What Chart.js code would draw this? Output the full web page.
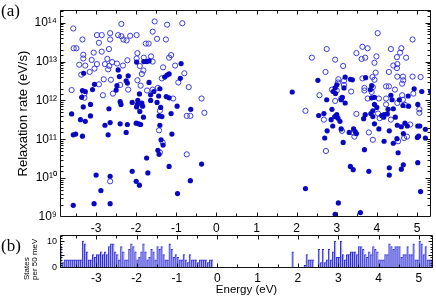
<!DOCTYPE html>
<html>
<head>
<meta charset="utf-8">
<script src="https://cdn.jsdelivr.net/npm/chart.js@4.4.0/dist/chart.umd.min.js"></script>
<style>
  body { margin: 0; background: #fff; }
  #wrap { position: relative; width: 436px; height: 297px; overflow: hidden; }
  canvas { position: absolute; left: 0; }
  .tag { position: absolute; font-family: 'Liberation Serif', serif; font-size: 17px; color: #000; }
  .vlab { position: absolute; font-family: 'Liberation Sans', Arial, sans-serif; font-size: 8px; line-height: 8px;
          white-space: pre; transform-origin: 0 0; transform: rotate(-90deg); color: #000; }
</style>
</head>
<body>
<div id="wrap">
  <canvas id="rates" width="436" height="240" style="top:0"></canvas>
  <canvas id="dos" width="436" height="72" style="top:225px"></canvas>
  <div class="tag" style="left:1px;top:1px">(a)</div>
  <div class="tag" style="left:1px;top:236px">(b)</div>
  <div class="vlab" style="left:23px;top:280px">States
per 50 meV</div>
</div>
<script>
// energy (eV), relaxation rate (eV/s)
const filledPoints = [
  [-3.61,4.5e11],[-3.57,1.3e11],[-3.51,1.36e11],[-3.57,2.0e9],[-3.39,3.2e11],[-3.36,1.2e12],
  [-3.34,1.8e12],[-3.34,1.2e11],[-3.32,6.8e11],[-3.31,5.0e12],[-3.27,1.7e12],[-3.27,2.9e11],
  [-3.14,7.9e11],[-3.14,4.0e11],[-3.09,1.9e12],[-3.05,2.2e9],[-3.04,2.6e12],[-3.00,1.2e10],
  [-2.88,4.8e9],[-2.78,2.3e11],[-2.70,1.3e11],[-2.68,6.1e11],[-2.65,2.7e11],[-2.65,1.12e10],
  [-2.65,2.2e9],[-2.50,1.85e12],[-2.48,2.4e12],[-2.45,6.1e12],[-2.42,4.1e12],[-2.40,9.3e11],
  [-2.40,2.5e11],[-2.38,7.9e11],[-2.25,3.2e12],[-2.25,1.5e11],[-2.22,2.8e12],[-2.22,2.4e11],
  [-2.20,4.3e12],[-2.10,8.9e11],[-2.10,1.5e10],[-2.00,2.6e11],[-2.00,8.3e9],[-1.99,9.7e12],
  [-1.99,6.8e11],[-1.97,7.9e11],[-1.96,1.0e12],[-1.94,2.5e11],[-1.92,1.47e12],[-1.92,6.6e9],
  [-1.91,5.2e11],[-1.89,2.4e11],[-1.86,8.6e11],[-1.84,7.1e11],[-1.82,3.7e11],[-1.81,1.0e13],
  [-1.74,1.0e13],[-1.74,3.3e10],[-1.71,1.36e10],[-1.68,1.04e13],[-1.68,2.9e12],[-1.64,1.4e12],
  [-1.64,1.0e12],[-1.56,1.7e12],[-1.48,8.9e11],[-1.46,5.2e10],[-1.44,1.3e12],[-1.43,4.0e11],
  [-1.43,4.1e10],[-1.41,2.0e12],[-1.41,2.3e11],[-1.39,6.6e11],[-1.38,9.7e10],[-1.36,3.85e11],
  [-1.33,7.1e10],[-1.29,4.0e12],[-1.25,1.26e12],[-1.23,4.5e12],[-1.18,4.8e12],[-1.18,1.17e12],
  [-1.18,2.0e10],[-1.13,4.6e11],[-1.11,1.36e11],[-0.98,7.1e11],[-0.97,4.0e9],[-0.90,3.7e12],
  [-0.88,8.9e12],[-0.65,8.6e9],[-0.64,5.9e11],[-0.37,2.3e10],
  [1.89,1.65e12],[2.22,5.4e9],[2.53,3.3e12],[2.55,4.1e11],[2.68,4.6e11],[2.70,1.08e11],
  [2.75,1.04e12],[2.76,1.65e11],[2.86,3.2e11],[2.88,5.9e11],[2.90,2.2e11],[2.91,1.7e12],
  [2.95,3.85e11],[2.96,2.1e12],[2.96,1.17e9],[2.97,1.5e12],[3.00,2.5e12],[3.00,4.3e11],
  [3.03,3.5e11],[3.04,2.3e9],[3.08,2.9e11],[3.11,1.04e12],[3.11,1.85e11],[3.14,1.2e12],
  [3.16,8.3e10],[3.18,2.1e12],[3.21,4.0e12],[3.21,8.6e11],[3.31,1.5e11],[3.34,3.5e12],
  [3.34,2.0e10],[3.39,3.4e12],[3.41,1.65e10],[3.42,1.85e11],[3.46,1.58e11],[3.49,1.4e11],
  [3.59,1.3e9],[3.67,3.4e11],[3.69,5.4e10],[3.71,4.3e11],[3.72,3.85e12],[3.80,1.5e10],
  [3.84,1.9e12],[3.85,4.6e11],[3.87,2.4e12],[3.87,1.17e12],[3.90,5.4e11],[3.90,3.85e11],
  [3.94,1.2e12],[3.94,7.9e11],[3.94,2.5e11],[4.00,6.6e11],[4.05,1.85e11],[4.12,4.1e11],
  [4.17,3.7e11],[4.18,4.3e11],[4.18,8.9e10],[4.26,4.5e11],[4.28,5.9e11],[4.31,1.65e11],
  [4.31,1.85e10],[4.31,1.2e10],[4.35,1.36e12],[4.38,1.04e12],[4.41,6.1e11],[4.41,7.9e10],
  [4.46,3.7e11],[4.50,1.04e11],[4.51,2.3e11],[4.53,4.5e10],[4.56,1.04e12],[4.61,2.1e11],
  [4.61,1.7e10],[4.65,7.4e11],[4.66,1.4e11],[4.66,2.2e10],[4.70,2.6e11],[4.76,2.2e11],
  [4.78,1.3e12],[4.79,7.1e11],[4.93,2.0e12],[5.01,1.12e11],[5.02,7.9e11],[5.02,2.2e11],
  [5.02,2.5e10],[5.04,1.2e11],[5.07,2.2e11],[5.09,4.5e9],[5.12,1.7e12],[5.21,1.8e11],
  [5.21,1.08e11],[5.34,1.7e12]
];

const openPoints = [
  [-3.57,7.1e13],[-3.56,2.2e13],[-3.49,2.2e13],[-3.34,3.7e13],[-3.32,1.5e13],[-3.32,1.2e13],
  [-3.42,8.3e12],[-3.27,7.9e12],[-3.37,4.6e12],[-3.16,5.4e12],[-3.61,1.85e12],[-3.29,1.5e12],
  [-3.29,1.17e12],[-3.11,1.1e13],[-3.06,1.7e13],[-2.98,4.8e13],[-2.86,4.8e13],[-2.93,3.05e13],
  [-2.98,8.6e12],[-3.04,6.6e12],[-2.86,1.8e13],[-2.78,8.6e12],[-2.68,2.1e13],[-2.72,1.17e13],
  [-2.70,6.3e12],[-2.67,7.7e12],[-2.65,5.4e13],[-2.65,3.7e13],[-2.81,3.5e12],[-2.63,3.4e12],
  [-2.93,2.6e12],[-2.83,1.36e12],[-2.58,1.5e12],[-2.37,9.3e13],[-2.45,4.8e13],[-2.37,4.5e13],
  [-2.32,3.7e13],[-2.24,3.5e13],[-2.15,4.6e13],[-1.99,4.8e13],[-2.22,1.08e13],[-2.33,7.9e12],
  [-2.48,8.9e12],[-2.60,9.7e12],[-2.40,2.5e12],[-2.20,1.9e12],[-1.97,1.65e13],[-1.99,1.2e13],
  [-1.54,1.08e14],[-1.23,8.9e13],[-0.85,9.7e13],[-1.59,5.9e13],[-1.48,3.85e13],[-1.26,3.7e13],
  [-1.76,2.9e13],[-1.69,2.9e13],[-1.81,1.26e13],[-1.63,1.36e13],[-1.59,1.0e13],[-1.91,7.7e12],
  [-1.82,5.9e12],[-1.86,4.8e12],[-1.33,7.1e12],[-1.18,1.26e13],[-1.13,1.47e13],[-1.03,7.9e12],
  [-0.80,5.0e12],[-1.36,3.7e12],[-0.95,2.9e12],[-0.69,2.2e12],[-1.97,3.3e12],[-1.89,2.4e12],
  [-1.73,1.8e12],[-1.59,1.9e12],[-1.46,2.1e12],[-1.08,1.12e12],[-0.37,1.12e12],[-1.41,5.4e11],
  [-0.30,4.8e11],[-0.74,4.0e11],[-0.65,4.0e11],[-2.65,8.3e9],[-1.43,1.7e11],[-1.34,8.3e10],
  [-1.41,4.6e10],[-0.74,4.1e10],
  [4.02,5.4e13],[4.89,3.7e13],[3.64,2.4e13],[3.77,2.2e13],[2.75,2.1e13],[3.49,1.65e13],
  [2.38,1.26e13],[2.96,1.12e13],[3.62,1.17e13],[3.71,1.26e13],[3.99,1.36e13],[3.94,9.3e12],
  [4.35,2.1e13],[4.61,2.2e13],[4.58,1.7e13],[4.50,1.3e13],[4.73,1.26e13],[4.41,7.9e12],
  [4.51,8.6e12],[4.50,6.8e12],[3.16,7.7e12],[2.72,5.4e12],[4.30,5.4e12],[3.97,5.2e12],
  [3.89,4.0e12],[3.94,3.4e12],[3.64,3.7e12],[4.51,4.1e12],[4.65,4.1e12],[4.89,4.1e12],
  [5.09,4.0e12],[3.04,3.5e12],[3.03,2.9e12],[3.18,3.2e12],[3.18,2.5e12],[4.66,3.3e12],
  [4.63,2.7e12],[4.23,2.3e12],[4.30,2.3e12],[3.69,2.1e12],[3.69,1.8e12],[3.90,2.2e12],
  [3.87,1.65e12],[4.45,1.9e12],[2.88,1.9e12],[3.00,1.8e12],[2.57,1.36e12],[3.11,1.12e12],
  [3.36,1.7e12],[3.77,1.12e12],[4.23,1.12e12],[4.63,1.36e12],[4.65,1.04e12],[4.91,1.5e12],
  [4.05,1.12e12],[2.96,9.7e11],[4.23,7.9e11],[4.51,8.6e11],[4.70,7.7e11],[2.22,5.4e11],
  [5.06,5.9e11],[5.06,4.8e11],[3.49,4.5e11],[4.03,4.6e11],[2.68,3.2e11],[3.13,1.65e11],
  [3.41,1.47e11],[3.44,1.17e11],[3.80,1.5e11],[3.90,9.7e10],[4.07,3.5e11],[4.35,3.2e11],
  [4.83,2.4e11],[4.75,1.17e11],[4.68,1.08e11],[4.53,8.9e10],[2.73,5.0e10]
];

// density of states, counts per 50 meV bin
const binWidth = 0.05;
const dosLeftStart = -3.9;
const dosLeft = [8,2,3,3,3,3,3,3,3,3,3,10,9,6,3,3,5,4,5,5,6,5,6,5,8,9,9,6,5,3,8,6,3,3,7,9,8,6,3,4,
                 6,9,6,3,4,7,6,3,8,7,8,5,3,3,9,7,4,5,4,3,3,5,3,2,5,3,3,3,2,3,3,3,3,2,3,3];
const dosRightStart = 1.85;
const dosRight = [6,0,0,0,0,0,1,5,3,3,3,0,0,7,2,7,2,3,7,3,6,10,4,4,10,5,3,5,5,6,6,6,5,8,8,7,5,4,6,5,
                  8,7,6,3,3,3,5,5,9,8,7,8,8,8,4,5,5,8,5,5,9,3,3,10,9,5,8,3,3,3,3];

const energyTicks = [-3, -2, -1, 0, 1, 2, 3, 4, 5];
const energyMinorTicks = [-3.5, -2.5, -1.5, -0.5, 0.5, 1.5, 2.5, 3.5, 4.5];
const dosTicks = [0, 5, 10];
const dosMinorTicks = [1, 2, 3, 4, 6, 7, 8, 9, 11, 12];

const xMin = -3.9, xMax = 5.35;
const sup = {'0':'⁰','1':'¹','2':'²','3':'³','4':'⁴','5':'⁵','6':'⁶','7':'⁷','8':'⁸','9':'⁹'};

Chart.defaults.color = '#000';
Chart.defaults.font.family = "'Liberation Sans', Arial, sans-serif";

// box round the plot with inward tick marks on all four sides
const frameTicks = {
  id: 'frameTicks',
  afterDatasetsDraw(chart, args, opts) {
    const {ctx, chartArea: a} = chart;
    const sx = chart.scales.x, sy = chart.scales.y;
    const L = Math.round(a.left) + 0.5, R = Math.round(a.right) - 0.5;
    const T = Math.round(a.top) + 0.5, B = Math.round(a.bottom) - 0.5;
    ctx.save();
    ctx.strokeStyle = '#111';
    ctx.lineWidth = 1;
    ctx.beginPath();
    ctx.rect(L, T, R - L, B - T);
    const xs = (vals, len) => vals.forEach(v => {
      const p = Math.round(sx.getPixelForValue(v)) + 0.5;
      ctx.moveTo(p, B); ctx.lineTo(p, B - len);
      ctx.moveTo(p, T); ctx.lineTo(p, T + len);
    });
    const ys = (vals, len) => vals.forEach(v => {
      const p = Math.round(sy.getPixelForValue(v)) + 0.5;
      if (p < T || p > B) return;
      ctx.moveTo(L, p); ctx.lineTo(L + len, p);
      ctx.moveTo(R, p); ctx.lineTo(R - len, p);
    });
    xs(opts.xMajor, 4);
    xs(opts.xMinor, 3);
    if (opts.logY) {
      const vals = sy.ticks.map(t => t.value);
      const isDecade = v => Math.abs(Math.log10(v) - Math.round(Math.log10(v))) < 1e-6;
      ys(vals.filter(isDecade), 5);
      ys(vals.filter(v => !isDecade(v)), 3);
    } else {
      ys(opts.yMajor, 4);
      ys(opts.yMinor, 2);
    }
    ctx.stroke();
    ctx.restore();
  }
};

const tickFont = {size: 12};

new Chart(document.getElementById('rates'), {
  type: 'scatter',
  data: {
    datasets: [{
      label: 'filled',
      data: filledPoints.map(p => ({x: p[0], y: p[1]})),
      pointRadius: 2.6,
      pointBackgroundColor: '#0808c4',
      pointBorderWidth: 0,
      order: 0
    }, {
      label: 'open',
      data: openPoints.map(p => ({x: p[0], y: p[1]})),
      pointRadius: 2.6,
      pointBackgroundColor: 'rgba(255,255,255,0)',
      pointBorderColor: '#3a3ae2',
      pointBorderWidth: 1,
      order: 1
    }]
  },
  options: {
    responsive: false,
    animation: false,
    events: [],
    layout: {padding: {left: 0, right: 3, top: 4, bottom: 0}},
    plugins: {
      legend: {display: false},
      tooltip: {enabled: false},
      frameTicks: {xMajor: energyTicks, xMinor: energyMinorTicks, logY: true}
    },
    scales: {
      x: {
        type: 'linear', min: xMin, max: xMax,
        afterFit: s => { s.height = 23; },
        grid: {display: false, drawTicks: false},
        border: {display: false},
        ticks: {stepSize: 1, includeBounds: false, padding: 4, font: tickFont, maxRotation: 0, autoSkip: false,
                callback: v => Number.isInteger(v) ? String(v) : ''}
      },
      y: {
        type: 'logarithmic', min: 1e9, max: 2.1e14,
        afterFit: s => { s.width = 60; },
        grid: {display: false, drawTicks: false},
        border: {display: false},
        ticks: {autoSkip: false, padding: 3, font: tickFont,
                callback: v => {
                  const e = Math.log10(v);
                  if (Math.abs(e - Math.round(e)) > 1e-6) return '';
                  return '10' + String(Math.round(e)).split('').map(c => sup[c]).join('');
                }},
        title: {display: true, text: 'Relaxation rate (eV/s)', font: {size: 13}, padding: {top: 16, bottom: 0}}
      }
    }
  },
  plugins: [frameTicks]
});

const dosData = [];
dosLeft.forEach((n, i) => { if (n > 0) dosData.push({x: dosLeftStart + (i + 0.5) * binWidth, y: n}); });
dosRight.forEach((n, i) => { if (n > 0) dosData.push({x: dosRightStart + (i + 0.5) * binWidth, y: n}); });

new Chart(document.getElementById('dos'), {
  type: 'bar',
  data: {
    datasets: [{
      label: 'States per 50 meV',
      data: dosData,
      backgroundColor: '#aaaaf2',
      borderColor: '#2c2cd0',
      borderWidth: {left: 1, top: 1, right: 0, bottom: 0},
      borderSkipped: false,
      barPercentage: 1,
      categoryPercentage: 1
    }]
  },
  options: {
    responsive: false,
    animation: false,
    events: [],
    layout: {padding: {left: 0, right: 3, top: 10, bottom: 0}},
    plugins: {
      legend: {display: false},
      tooltip: {enabled: false},
      frameTicks: {xMajor: energyTicks, xMinor: energyMinorTicks, yMajor: dosTicks, yMinor: dosMinorTicks}
    },
    scales: {
      x: {
        type: 'linear', min: xMin, max: xMax, offset: false,
        afterFit: s => { s.height = 29; },
        grid: {display: false, drawTicks: false},
        border: {display: false},
        ticks: {stepSize: 1, includeBounds: false, padding: 3, font: tickFont, maxRotation: 0, autoSkip: false,
                callback: v => Number.isInteger(v) ? String(v) : ''},
        title: {display: true, text: 'Energy (eV)', font: {size: 11.5}, padding: {top: 0, bottom: 0}}
      },
      y: {
        type: 'linear', min: 0, max: 12.3,
        afterFit: s => { s.width = 60; },
        grid: {display: false, drawTicks: false},
        border: {display: false},
        ticks: {stepSize: 10, includeBounds: false, padding: 3, font: {size: 9},
                callback: v => (v === 0 || v === 10) ? String(v) : ''}
      }
    }
  },
  plugins: [frameTicks]
});
</script>
</body>
</html>
